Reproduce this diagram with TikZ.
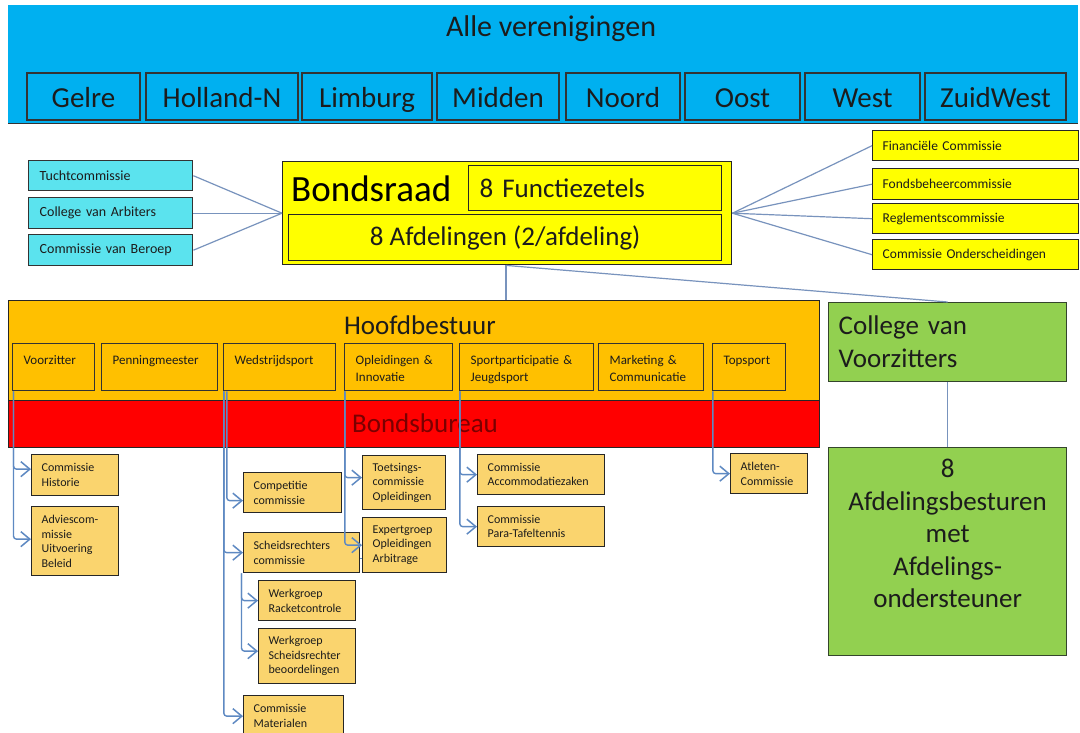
\documentclass[tikz,border=0pt]{standalone}
\usepackage{fontspec}
\setmainfont{Carlito}
\usetikzlibrary{arrows.meta,calc}
\definecolor{bandblue}{HTML}{00B0F0}
\definecolor{cyanfill}{HTML}{5BE3EE}
\definecolor{yel}{HTML}{FFFF00}
\definecolor{orng}{HTML}{FFC000}
\definecolor{redb}{HTML}{FF0000}
\definecolor{comfill}{HTML}{FAD46E}
\definecolor{grn}{HTML}{92D050}
\definecolor{lineblue}{HTML}{5E89C2}
\definecolor{thinline}{HTML}{7893BD}
\definecolor{txt}{HTML}{1C1C1C}
\definecolor{maroonx}{HTML}{7A0000}
\definecolor{grnborder}{HTML}{34452C}
\newcommand\myfs[2]{\fontsize{#1}{#2}\selectfont}
\newcommand\nohy{\hyphenpenalty=10000\relax}
\begin{document}
\begin{tikzpicture}[x=1pt,y=-1pt,
  conn/.style={draw=lineblue, line width=1.4pt},
  conntwo/.style={draw=thinline, line width=1.2pt},
  arr/.style={conn, rounded corners=3pt, -{Straight Barb[length=9pt,width=15pt,line width=1.5pt]}},
  region/.style={draw=black!80, line width=1.2pt, fill=bandblue, font=\myfs{29}{34}, text=txt, minimum height=47pt, inner sep=0pt, text height=24pt, text depth=2pt},
  cyanbox/.style={draw=black!80, line width=1.4pt, fill=cyanfill, font=\myfs{14}{17}, text=txt, anchor=north west, inner xsep=11pt, inner ysep=0pt, align=left},
  rbox/.style={draw=black!85, line width=1.4pt, fill=yel, font=\myfs{13.5}{16}, text=txt, anchor=north west, inner xsep=10pt, inner ysep=0pt, align=left, text width=186pt},
  hbox/.style={draw=black!80, line width=1.3pt, fill=orng, font=\myfs{13}{16.5}, text=txt, anchor=north west, inner xsep=11pt, inner ysep=3pt, align=left, text height=18pt, text depth=23pt},
  cbox/.style={draw=black!85, line width=1.3pt, fill=comfill, font=\myfs{12}{14.5}, text=txt, anchor=north west, inner xsep=10pt, inner ysep=0pt, align=left}
]
\useasboundingbox (0,0) rectangle (1080,732);
\fill[white] (0,0) rectangle (1080,732);

% top band
\node[fill=bandblue, minimum width=1070pt, minimum height=118pt, inner sep=0pt, anchor=north west] (band) at (8,5) {};
\draw[black!80, line width=1.2pt] (band.south west) -- (band.south east);
\node[font=\myfs{30}{36}, text=txt] (alle) at (551,29) {Alle verenigingen};
\node[region, minimum width=113pt] (gelre) at (83.5,96.5) {Gelre};
\node[region, minimum width=152pt] (holland) at (222,96.5) {Holland-N};
\node[region, minimum width=130pt] (limburg) at (367,96.5) {Limburg};
\node[region, minimum width=122pt] (midden) at (498,96.5) {Midden};
\node[region, minimum width=114pt] (noord) at (623,96.5) {Noord};
\node[region, minimum width=115pt] (oost) at (742.5,96.5) {Oost};
\node[region, minimum width=115pt] (west) at (862.5,96.5) {West};
\node[region, minimum width=141pt] (zuidwest) at (995.5,96.5) {ZuidWest};

% Bondsraad
\node[draw=black!85, line width=1.4pt, fill=yel, minimum width=449pt, minimum height=103pt, inner sep=0pt, anchor=north west] (bondsraad) at (282,161) {};
\node[font=\myfs{37}{44}, text=black, anchor=base west, inner sep=0pt] (bsrtxt) at (291,201) {Bondsraad};
\node[draw=black!85, line width=1.3pt, fill=yel, anchor=north west, text width=231pt, inner xsep=11pt, inner ysep=0pt, minimum height=45pt, align=left, font=\myfs{27}{32}, text=txt] (functie) at (468,165) {8 Functiezetels};
\node[draw=black!85, line width=1.3pt, fill=yel, anchor=north west, minimum width=433pt, minimum height=46pt, inner sep=0pt, font=\myfs{27}{32}, text=txt] (afdel) at (288,214) {8 Afdelingen (2/afdeling)};

% left cyan boxes
\node[cyanbox, text width=142pt, minimum height=30pt] (tucht) at (28,160) {Tuchtcommissie};
\node[cyanbox, text width=142pt, minimum height=31pt] (arbiters) at (28,197) {College van Arbiters};
\node[cyanbox, text width=142pt, minimum height=31pt] (beroep) at (28,234) {Commissie van Beroep};

% right yellow boxes
\node[rbox, minimum height=30pt] (fin) at (872,130) {Financiële Commissie};
\node[rbox, minimum height=31pt] (fonds) at (872,168) {Fondsbeheercommissie};
\node[rbox, minimum height=30pt] (regl) at (872,203) {Reglementscommissie};
\node[rbox, minimum height=30pt] (onder) at (872,239) {Commissie Onderscheidingen};

\draw[conntwo] (tucht.east) -- (bondsraad.west);
\draw[conntwo] (arbiters.east) -- (bondsraad.west);
\draw[conntwo] (beroep.east) -- (bondsraad.west);
\draw[conntwo] (bondsraad.east) -- (fin.west);
\draw[conntwo] (bondsraad.east) -- (fonds.west);
\draw[conntwo] (bondsraad.east) -- (regl.west);
\draw[conntwo] (bondsraad.east) -- (onder.west);

% Hoofdbestuur and Bondsbureau
\node[draw=black!85, line width=1.4pt, fill=orng, minimum width=811pt, minimum height=100pt, inner sep=0pt, anchor=north west] (hoofd) at (8,300) {};
\node[draw=black!85, line width=1.4pt, fill=redb, minimum width=811pt, minimum height=47pt, inner sep=0pt, anchor=north west] (bureau) at (8,400) {};
\node[font=\myfs{27}{32}, text=txt] (hoofdtxt) at (420,325) {Hoofdbestuur};
\node[font=\myfs{27}{32}, text=maroonx] (burtxt) at (425,423) {Bondsbureau};

\node[hbox, text width=60pt] (vz) at (12,343) {Voorzitter};
\node[hbox, text width=94pt] (pm) at (101,343) {Penningmeester};
\node[hbox, text width=90pt] (ws) at (223,343) {Wedstrijdsport};
\node[hbox, text width=86pt] (op) at (344,343) {Opleidingen \&\\Innovatie};
\node[hbox, text width=112pt] (sp) at (459,343) {Sportparticipatie \&\\Jeugdsport};
\node[hbox, text width=83pt] (mk) at (598,343) {Marketing \&\\Communicatie};
\node[hbox, text width=51pt] (tp) at (712,343) {Topsport};

% College van Voorzitters
\node[draw=grnborder, line width=1.3pt, fill=grn, anchor=north west, text width=218pt, inner xsep=10pt, inner ysep=4pt, align=left, font=\myfs{27}{33}, text=txt, text height=28pt, text depth=43pt] (cvv) at (828,302) {College van\\Voorzitters};
\node[draw=grnborder, line width=1.3pt, fill=grn, anchor=north west, text width=228pt, inner xsep=5pt, inner ysep=4pt, align=center, font=\myfs{27}{32.5}, text=txt, text height=26pt, text depth=174pt] (afd) at (828,447) {8\\Afdelingsbesturen\\met\\Afdelings-\\ondersteuner};

\coordinate (bsd) at ($(bondsraad.south west)+(224,0)$);
\draw[conntwo] (bsd) -- (bsd |- hoofd.north);
\draw[conntwo] (bsd) -- (cvv.north);
\draw[conntwo] (cvv.south) -- (afd.north);

% commission boxes
\node[cbox, text width=67pt, minimum height=41pt] (hist) at (31,454) {Commissie\\Historie};
\node[cbox, text width=67pt, minimum height=69pt] (advies) at (31,506) {Adviescom-\\missie\\Uitvoering\\Beleid};
\node[cbox, text width=78pt, minimum height=40pt] (comp) at (243,472) {Competitie\\commissie};
\node[cbox, text width=96pt, minimum height=40pt] (scheids) at (243,532) {Scheidsrechters\\commissie};
\node[cbox, text width=77pt, minimum height=40pt] (racket) at (258,580) {Werkgroep\\Racketcontrole};
\node[cbox, text width=77pt, minimum height=55pt] (beoord) at (258,628) {\nohy Werkgroep\\Scheidsrechter\\beoordelingen};
\node[cbox, text width=80pt, minimum height=41pt] (mat) at (243,695) {Commissie\\Materialen};
\node[cbox, text width=63pt, minimum height=54pt] (toets) at (362,455) {Toetsings-\\commissie\\Opleidingen};
\node[cbox, text width=64pt, minimum height=55pt] (expert) at (362,517) {\nohy Expertgroep\\Opleidingen\\Arbitrage};
\node[cbox, text width=107pt, minimum height=40pt] (accom) at (477,454) {\nohy Commissie\\Accommodatiezaken};
\node[cbox, text width=107pt, minimum height=40pt] (para) at (477,506) {Commissie\\Para-Tafeltennis};
\node[cbox, text width=57pt, minimum height=40pt] (atleten) at (730,453) {Atleten-\\Commissie};

% trunks and arrows
\coordinate (vzt) at ($(vz.south west)+(1.5,0)$);
\draw[arr] (vzt) |- ($(hist.west)+(0,-6)$);
\draw[arr] (vzt) |- ($(advies.west)+(0,-2)$);

\coordinate (wst) at ($(ws.south west)+(0.8,0)$);
\coordinate (wsttwo) at ($(ws.south west)+(3.8,0)$);
\draw[arr] (wsttwo) |- ($(comp.west)+(0,8)$);
\draw[arr] (wst) |- (scheids.west);
\draw[arr] (wst) |- (mat.west);
\coordinate (sct) at ($(scheids.south west)+(-1.5,0)$);
\draw[arr] (sct) |- (racket.west);
\draw[arr] (sct) |- ($(beoord.west)+(0,-5)$);

\coordinate (opt) at ($(op.south west)+(0.8,0)$);
\draw[arr] (opt) |- ($(toets.west)+(0,-5)$);
\draw[arr] (opt) |- (expert.west);
\draw[conn] ($(scheids.east)+(0,6)$) coordinate (se) -- (se -| expert.west);

\coordinate (spt) at ($(sp.south west)+(0.8,0)$);
\draw[arr] (spt) |- (accom.west);
\draw[arr] (spt) |- (para.west);

\coordinate (tpt) at ($(tp.south west)+(0.8,0)$);
\draw[arr] (tpt) |- (atleten.west);
\end{tikzpicture}
\end{document}
